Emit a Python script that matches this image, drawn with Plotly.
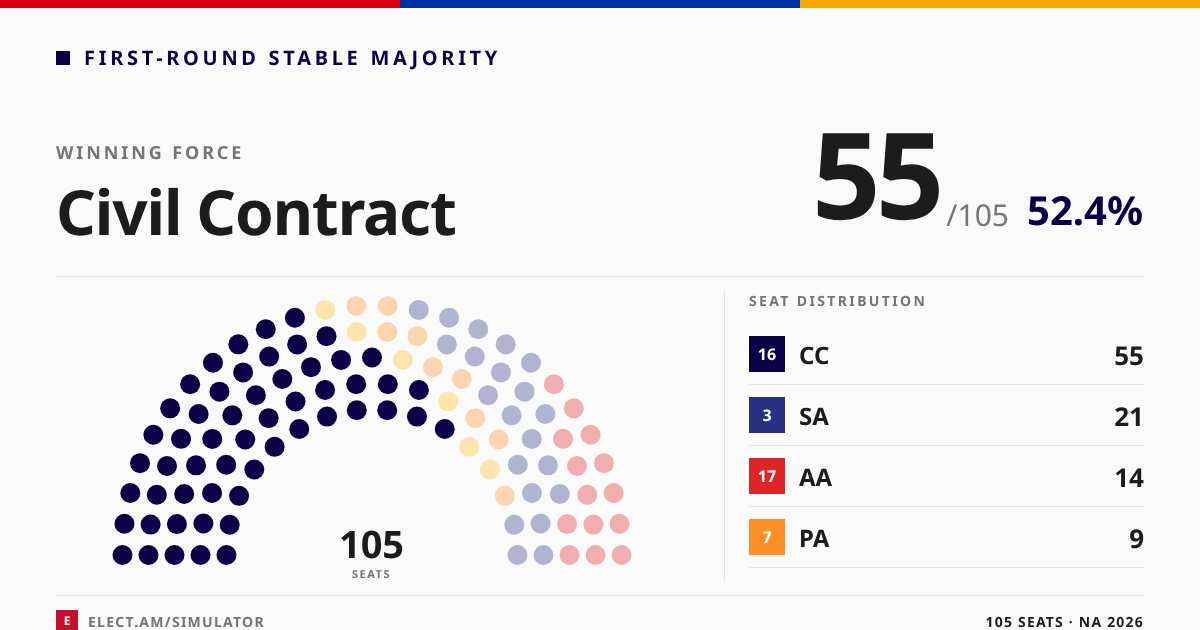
import math
import plotly.graph_objects as go

# Party data
party_codes = ["CC", "SA", "AA", "PA"]
party_numbers = ["16", "3", "17", "7"]
party_seats = [55, 21, 14, 9]
party_colors = ["#0A0047", "#2A2F7F", "#DD2525", "#FF8F24"]

# Seats per arc, outermost first, in left-to-right order of the blocs
row_cc = [11, 11, 11, 11, 11]
row_other = [1, 1, 1, 1, 2]
row_pa = [2, 2, 2, 2, 1]
row_sa = [5, 5, 5, 4, 2]
row_aa = [7, 5, 2, 0, 0]
row_radius = [249.5, 223.5, 197.5, 171.5, 145.5]

seat_colors = {
    "cc": "#0A0047",
    "other": "#FCE4AE",
    "pa": "#FDD4B0",
    "sa": "#B1B4D0",
    "aa": "#F0AEB0",
}
CENTER_X, CENTER_Y = 372, 555

INK = "#1C1C1C"
GREY = "#757575"
RULE = "#E6E6E6"
FONT = "Noto Sans"

fig = go.Figure()

# Hemicycle seats: every arc is spread evenly over 180 degrees
for key, counts_before, counts in [
    ("cc", [0] * 5, row_cc),
    ("other", row_cc, row_other),
    ("pa", [a + b for a, b in zip(row_cc, row_other)], row_pa),
    ("sa", [a + b + c for a, b, c in zip(row_cc, row_other, row_pa)], row_sa),
    ("aa", [a + b + c + d for a, b, c, d in zip(row_cc, row_other, row_pa, row_sa)], row_aa),
]:
    xs, ys = [], []
    for r in range(5):
        total = row_cc[r] + row_other[r] + row_pa[r] + row_sa[r] + row_aa[r]
        for i in range(counts_before[r], counts_before[r] + counts[r]):
            theta = math.pi * i / (total - 1)
            xs.append(CENTER_X - row_radius[r] * math.cos(theta))
            ys.append(CENTER_Y - row_radius[r] * math.sin(theta))
    fig.add_trace(go.Scatter(x=xs, y=ys, mode="markers",
                             marker=dict(size=20, color=seat_colors[key], line=dict(width=0)),
                             hoverinfo="skip", showlegend=False))

shapes = []


def rect(x0, y0, x1, y1, color):
    shapes.append(dict(type="rect", xref="x", yref="y", x0=x0, y0=y0, x1=x1, y1=y1,
                       fillcolor=color, line=dict(width=0), layer="below"))


def rule(x0, y0, x1, y1):
    shapes.append(dict(type="line", xref="x", yref="y", x0=x0, y0=y0, x1=x1, y1=y1,
                       line=dict(color=RULE, width=1), layer="below"))


def label(x, y, text, size, color, weight=400, side="left"):
    position = {"left": "middle right", "right": "middle left", "center": "middle center"}[side]
    fig.add_trace(go.Scatter(x=[x], y=[y], mode="text", text=[text], textposition=position,
                             textfont=dict(family=FONT, size=size, color=color, weight=weight),
                             hoverinfo="skip", showlegend=False))


# Tricolour strip along the top edge
rect(0, 0, 400, 8, "#D90012")
rect(400, 0, 800, 8, "#0033A0")
rect(800, 0, 1200, 8, "#F2A800")

# Header
rect(56, 51, 70, 65, "#0A0047")
label(84, 60, "FIRST-ROUND STABLE MAJORITY", 20, "#0A0047", 700)
label(56, 154.5, "WINNING FORCE", 18, GREY, 700)
label(56, 219.5, "Civil Contract", 62, INK, 700)
label(939.7, 189, "55", 120, INK, 700, "right")
label(1009, 218.5, "/105", 30, GREY, 400, "right")
label(1143, 214.5, "52.4%", 40, "#0A0047", 700, "right")

rule(56, 276.5, 1144, 276.5)
rule(724.5, 291, 724.5, 581)

# Centre of the hemicycle
label(371.5, 548, "105", 38, INK, 700, "center")
label(371.5, 575, "SEATS", 11, GREY, 700, "center")

# Seat distribution table
label(749, 302, "SEAT DISTRIBUTION", 14, GREY, 700)
for i, (code, number, seats, color) in enumerate(zip(party_codes, party_numbers, party_seats, party_colors)):
    top = 336 + 61 * i
    rect(749, top, 785, top + 36, color)
    label(767, top + 20, number, 16, "#FFFFFF", 700, "center")
    label(799, top + 22, code, 24, INK, 700)
    label(1144, top + 22, str(seats), 26, INK, 700, "right")
    rule(749, top + 48.5, 1144, top + 48.5)

# Footer
rule(56, 595.5, 1144, 595.5)
rect(56, 610, 78, 632, "#C8102E")
label(67, 622, "E", 12, "#FFFFFF", 700, "center")
label(88, 623, "ELECT.AM/SIMULATOR", 14, GREY, 700)
label(1144, 623, "105 SEATS · NA 2026", 14, INK, 700, "right")

fig.update_layout(
    width=1200, height=630,
    margin=dict(l=0, r=0, t=0, b=0),
    paper_bgcolor="#FAFAFA", plot_bgcolor="#FAFAFA",
    xaxis=dict(range=[0, 1200], visible=False, fixedrange=True),
    yaxis=dict(range=[630, 0], visible=False, fixedrange=True),
    shapes=shapes,
    showlegend=False,
)

# Tracking for the spaced-out caps and the tight display figures
tracking = """
var tracking = {
  'FIRST-ROUND STABLE MAJORITY': '3.7px', 'WINNING FORCE': '2.9px', 'Civil Contract': '-1.1px',
  'SEAT DISTRIBUTION': '2.37px', 'SEATS': '1.5px',
  'ELECT.AM/SIMULATOR': '1.28px', '105 SEATS \\u00b7 NA 2026': '1.2px'
};
function applyTracking() {
  document.querySelectorAll('.textpoint text').forEach(function (t) {
    var s = t.textContent;
    t.style.textRendering = 'geometricPrecision';
    if (s === '55' && parseFloat(t.style.fontSize) > 100) { t.style.letterSpacing = '-4.8px'; }
    else if (tracking[s]) { t.style.letterSpacing = tracking[s]; }
  });
  document.querySelectorAll('.main-svg').forEach(function (g) { g.style.willChange = 'transform'; });
}
applyTracking();
setTimeout(applyTracking, 0);
"""
fig.write_html("out.html", post_script=tracking, config=dict(staticPlot=True))
